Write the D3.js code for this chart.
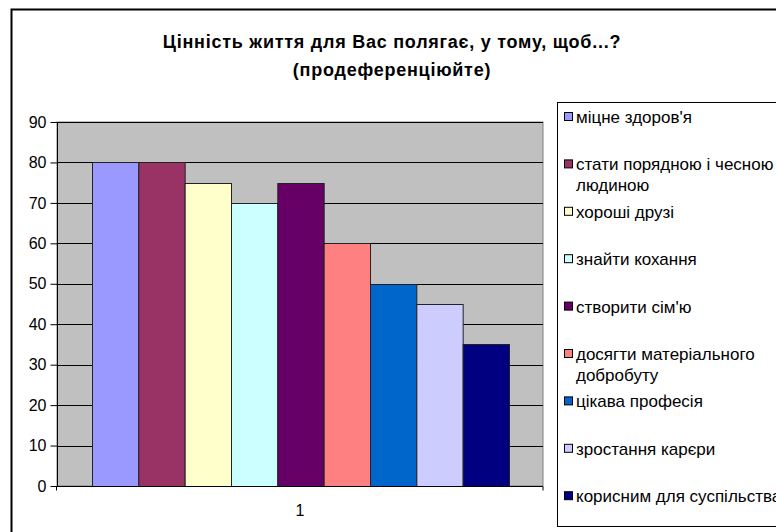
<!DOCTYPE html>
<html>
<head>
<meta charset="utf-8">
<script src="https://cdn.jsdelivr.net/npm/d3@7"></script>
<style>
  body { margin: 0; background: #fff; }
  svg { display: block; font-family: "Liberation Sans", Arial, sans-serif; }
</style>
</head>
<body>
<div id="chart"></div>
<script>
// data
var categories = ["1"];
var seriesNames = [
	"міцне здоров'я",
	"стати порядною і чесною людиною",
	"хороші друзі",
	"знайти кохання",
	"створити сім'ю",
	"досягти матеріального добробуту",
	"цікава професія",
	"зростання карєри",
	"корисним для суспільства"
];
var seriesValues = [80, 80, 75, 70, 75, 60, 50, 45, 35];
var seriesColors = ["#9999FF", "#993366", "#FFFFCC", "#CCFFFF", "#660066", "#FF8080", "#0066CC", "#CCCCFF", "#000080"];
var yTicks = [0, 10, 20, 30, 40, 50, 60, 70, 80, 90];
// legend labels wrap like the original
var legendLines = [
	["міцне здоров'я"],
	["стати порядною і чесною", "людиною"],
	["хороші друзі"],
	["знайти кохання"],
	["створити сім'ю"],
	["досягти матеріального", "добробуту"],
	["цікава професія"],
	["зростання карєри"],
	["корисним для суспільства"]
];

var W = 776, H = 532;
var plot = {left: 57, top: 122, right: 543, bottom: 486};

var svg = d3.select("#chart").append("svg")
	.attr("width", W)
	.attr("height", H);

// outer chart frame
svg.append("rect")
	.attr("x", 11.5).attr("y", 9.5)
	.attr("width", 800).attr("height", 560)
	.attr("fill", "#fff")
	.attr("stroke", "#000")
	.attr("stroke-width", 2);

// title
var title = svg.append("text")
	.attr("text-anchor", "middle")
	.attr("font-size", "18px")
	.attr("font-weight", "bold")
	.attr("letter-spacing", "0.75px")
	.attr("fill", "#000");
title.append("tspan").attr("x", 392).attr("y", 48).text("Цінність життя для Вас полягає, у тому, щоб...?");
title.append("tspan").attr("x", 392).attr("y", 76).text("(продеференціюйте)");

var y = d3.scaleLinear().domain([0, 90]).range([plot.bottom, plot.top]);
var x1 = d3.scaleBand().domain(d3.range(seriesValues.length)).range([92, 509]);

// plot background
svg.append("rect")
	.attr("x", plot.left).attr("y", plot.top)
	.attr("width", plot.right - plot.left).attr("height", plot.bottom - plot.top)
	.attr("fill", "#C0C0C0")
	.attr("stroke", "#808080")
	.attr("stroke-width", 1);

// gridlines
svg.append("g")
	.selectAll("line")
	.data(yTicks.filter(function(d) { return d > 0; }))
	.enter()
	.append("line")
	.attr("x1", plot.left).attr("x2", plot.right)
	.attr("y1", function(d) { return Math.round(y(d)) + 0.5; })
	.attr("y2", function(d) { return Math.round(y(d)) + 0.5; })
	.attr("stroke", "#000")
	.attr("stroke-width", 1);

// bars
svg.append("g")
	.selectAll("rect")
	.data(seriesValues)
	.enter()
	.append("rect")
	.attr("x", function(d, i) { return x1(i) + 0.5; })
	.attr("y", function(d) { return Math.round(y(d)) + 0.5; })
	.attr("width", x1.bandwidth())
	.attr("height", function(d) { return Math.round(y(0)) - Math.round(y(d)); })
	.attr("fill", function(d, i) { return seriesColors[i]; })
	.attr("stroke", "#222")
	.attr("stroke-width", 1);

// y axis
var yAxis = d3.axisLeft(y).tickValues(yTicks).tickSize(7).tickPadding(4);
var gy = svg.append("g")
	.attr("transform", "translate(" + (plot.left + 0.5) + ",0)")
	.call(yAxis);
gy.select(".domain").attr("stroke", "#000").attr("d", "M0," + plot.top + "V" + plot.bottom);
gy.selectAll(".tick line").attr("stroke", "#000");
gy.selectAll("text").attr("font-size", "16px").attr("font-family", "Liberation Sans, Arial, sans-serif").attr("fill", "#000");

// x axis
var xAxis = d3.axisBottom(d3.scaleBand().domain(categories).range([plot.left, plot.right])).tickSize(0).tickPadding(18);
var gx = svg.append("g")
	.attr("transform", "translate(0," + (plot.bottom + 0.5) + ")")
	.call(xAxis);
gx.select(".domain").attr("stroke", "#000").attr("d", "M" + (plot.left - 0.5) + ",4V0H" + plot.right + "V4");
gx.selectAll("text").attr("font-size", "16px").attr("font-family", "Liberation Sans, Arial, sans-serif").attr("fill", "#000");

// legend
var legend = svg.append("g");
legend.append("rect")
	.attr("x", 557.5).attr("y", 102.5)
	.attr("width", 260).attr("height", 424)
	.attr("fill", "#fff")
	.attr("stroke", "#000")
	.attr("stroke-width", 1);

var item = legend.selectAll("g.item")
	.data(seriesNames)
	.enter()
	.append("g")
	.attr("class", "item")
	.attr("transform", function(d, i) { return "translate(0," + (117 + i * 47.4) + ")"; });

item.append("rect")
	.attr("x", 564.5).attr("y", -4.5)
	.attr("width", 8).attr("height", 8)
	.attr("fill", function(d, i) { return seriesColors[i]; })
	.attr("stroke", "#000");

item.append("text")
	.attr("font-size", "17px")
	.attr("fill", "#000")
	.each(function(d, i) {
		var t = d3.select(this);
		legendLines[i].forEach(function(line, j) {
			t.append("tspan").attr("x", 576).attr("y", 6 + j * 20.5).text(line);
		});
	});
</script>
</body>
</html>
